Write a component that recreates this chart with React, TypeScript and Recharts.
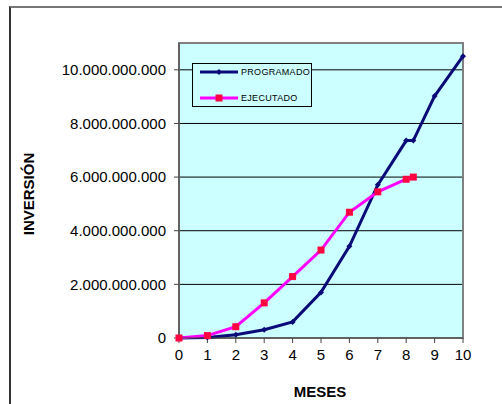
import {
  LineChart,
  Line,
  XAxis,
  YAxis,
  CartesianGrid,
  ReferenceArea,
} from "recharts";

const MESES = [0, 1, 2, 3, 4, 5, 6, 7, 8, 8.25, 9, 10];
const PROGRAMADO = [0, 0.02e9, 0.12e9, 0.31e9, 0.6e9, 1.7e9, 3.42e9, 5.71e9, 7.36e9, 7.36e9, 9.02e9, 10.51e9];
const EJECUTADO = [0, 0.09e9, 0.42e9, 1.31e9, 2.29e9, 3.28e9, 4.69e9, 5.45e9, 5.92e9, 6.0e9, null, null];
const Y_TICKS = [0, 2e9, 4e9, 6e9, 8e9, 10e9];
const X_TICKS = [0, 1, 2, 3, 4, 5, 6, 7, 8, 9, 10];
const SERIES = ["PROGRAMADO", "EJECUTADO"];

const NAVY = "#0a0a78";
const MAGENTA = "#ff00ff";
const RED = "#ff0040";
const FONT = "'Liberation Sans', Arial, sans-serif";

const data = MESES.map((x, i) => ({
  x,
  programado: PROGRAMADO[i],
  ejecutado: EJECUTADO[i],
}));

const fmt = (v: number) =>
  v === 0 ? "0" : Math.round(v).toString().replace(/\B(?=(\d{3})+(?!\d))/g, ".");

function Diamond(props: any) {
  const { cx, cy, index } = props;
  if (cx == null || cy == null) return <g key={`p${index}`} />;
  return (
    <path
      key={`p${index}`}
      d={`M${cx},${cy - 3} L${cx + 3},${cy} L${cx},${cy + 3} L${cx - 3},${cy} Z`}
      fill={NAVY}
    />
  );
}

function Square(props: any) {
  const { cx, cy, index } = props;
  if (cx == null || cy == null) return <g key={`e${index}`} />;
  return <rect key={`e${index}`} x={cx - 3.5} y={cy - 3.5} width={7} height={7} fill={RED} />;
}

// legend drawn over the plot, like the spreadsheet original
function LegendBox() {
  return (
    <div
      style={{
        position: "absolute",
        left: 192,
        top: 63,
        width: 118,
        height: 42,
        border: "1px solid #000",
        background: "#ccffff",
        fontFamily: FONT,
        fontSize: 9,
      }}
    >
      {SERIES.map((name, i) => (
        <div
          key={name}
          style={{
            position: "absolute",
            left: 0,
            top: i === 0 ? 3 : 29,
            display: "flex",
            alignItems: "center",
            height: 10,
          }}
        >
          <svg width={46} height={10}>
            <line x1={7} y1={5} x2={45} y2={5} stroke={i === 0 ? NAVY : MAGENTA} strokeWidth={3} />
            {i === 0 ? (
              <path d="M26,2 L29,5 L26,8 L23,5 Z" fill={NAVY} />
            ) : (
              <rect x={22.5} y={1.5} width={7} height={7} fill={RED} />
            )}
          </svg>
          <span style={{ marginLeft: 2, letterSpacing: 0.3, lineHeight: "10px" }}>{name}</span>
        </div>
      ))}
    </div>
  );
}

export default function App() {
  return (
    <div
      style={{
        position: "absolute",
        left: 0,
        top: 0,
        width: 502,
        height: 404,
        background: "#fff",
      }}
    >
      <div
        style={{
          position: "absolute",
          left: 9,
          top: 6,
          right: 0,
          bottom: 0,
          borderTop: "2px solid #777",
          borderLeft: "2px solid #333",
        }}
      />
      <LineChart
        width={502}
        height={404}
        data={data}
        margin={{ top: 43, right: 39, left: 0, bottom: 0 }}
        style={{ position: "absolute", left: 0, top: 0 }}
      >
        <CartesianGrid vertical={false} stroke="#000" fill="#ccffff" fillOpacity={1} />
        <ReferenceArea
          x1={0}
          x2={10}
          y1={0}
          y2={11e9}
          fill="none"
          stroke="#808080"
          strokeWidth={2}
          ifOverflow="visible"
        />
        <XAxis
          dataKey="x"
          type="number"
          domain={[0, 10]}
          ticks={X_TICKS}
          height={66}
          tickSize={5}
          tickMargin={6}
          stroke="#444"
          tick={{ fill: "#000", fontSize: 15, fontFamily: FONT }}
          label={{
            content: () => (
              <text
                x={320}
                y={397}
                textAnchor="middle"
                fontFamily={FONT}
                fontSize={15}
                fontWeight="bold"
                fill="#000"
              >
                MESES
              </text>
            ),
          }}
        />
        <YAxis
          type="number"
          domain={[0, 11e9]}
          ticks={Y_TICKS}
          width={179}
          tickSize={5}
          tickMargin={8}
          stroke="#444"
          tickFormatter={fmt}
          tick={{ fill: "#000", fontSize: 15, fontFamily: FONT }}
          label={{
            content: () => (
              <text
                x={34}
                y={194}
                transform="rotate(-90 34 194)"
                textAnchor="middle"
                fontFamily={FONT}
                fontSize={15}
                fontWeight="bold"
                fill="#000"
              >
                INVERSIÓN
              </text>
            ),
          }}
        />
        <Line
          name="PROGRAMADO"
          dataKey="programado"
          type="linear"
          stroke={NAVY}
          strokeWidth={3}
          dot={Diamond}
          activeDot={false}
          isAnimationActive={false}
        />
        <Line
          name="EJECUTADO"
          dataKey="ejecutado"
          type="linear"
          stroke={MAGENTA}
          strokeWidth={3}
          dot={Square}
          activeDot={false}
          connectNulls={false}
          isAnimationActive={false}
        />
      </LineChart>
      <LegendBox />
    </div>
  );
}
